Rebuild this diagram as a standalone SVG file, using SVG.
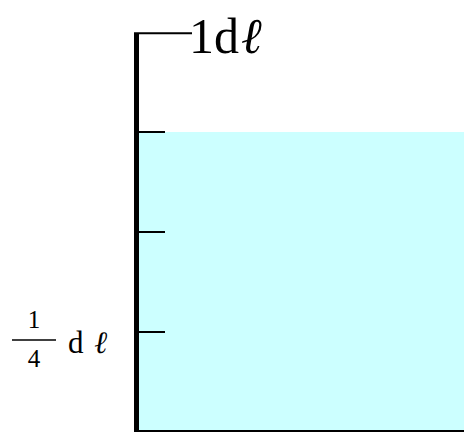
<svg xmlns="http://www.w3.org/2000/svg" width="464" height="432" viewBox="0 0 464 432">
<style>
.t{font-family:"Liberation Serif","DejaVu Serif",serif;fill:#000}
.ell{font-family:"DejaVu Serif",serif;font-style:italic}
.tick{stroke:#000;stroke-width:2}
</style>
<rect width="464" height="432" fill="#fff"/>
<g id="liquid"><rect x="139" y="132" width="325" height="299" fill="#ccffff"/></g>
<g id="axis">
<line x1="136.5" y1="33" x2="136.5" y2="432" stroke="#000" stroke-width="5"/>
<line x1="134" y1="33.3" x2="192" y2="33.3" stroke="#000" stroke-width="2"/>
<line x1="134" y1="431" x2="464" y2="431" stroke="#000" stroke-width="2"/>
<line class="tick" x1="139" y1="132" x2="165" y2="132"/>
<line class="tick" x1="139" y1="232" x2="165" y2="232"/>
<line class="tick" x1="139" y1="332" x2="165" y2="332"/>
</g>
<g id="label-top"><text class="t" x="189" y="53" font-size="50">1d<tspan class="ell" dx="2">ℓ</tspan></text></g>
<g id="label-quarter">
<text class="t" x="34" y="328" font-size="25" text-anchor="middle">1</text>
<line x1="12" y1="340" x2="56" y2="340" stroke="#000" stroke-width="1.5"/>
<text class="t" x="34" y="367" font-size="25" text-anchor="middle">4</text>
<text class="t" x="68" y="353" font-size="31">d <tspan class="ell" dx="3">ℓ</tspan></text>
</g>
</svg>
